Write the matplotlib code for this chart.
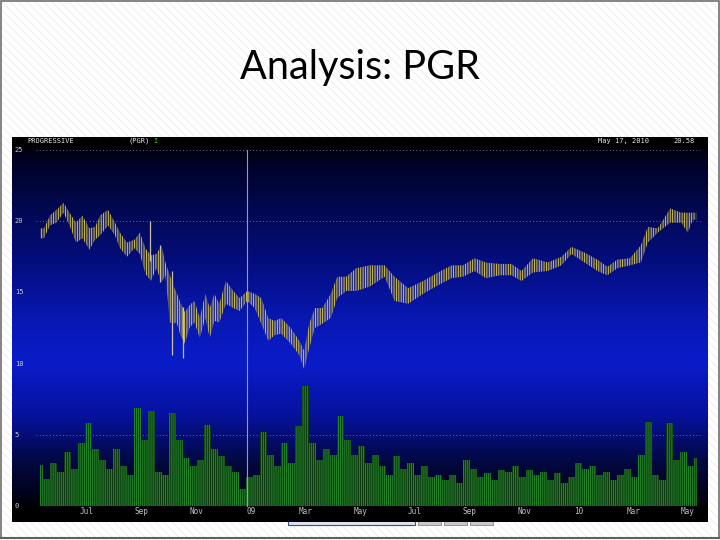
import numpy as np
import matplotlib.pyplot as plt
from matplotlib.colors import LinearSegmentedColormap
from matplotlib.patches import Rectangle
from matplotlib.lines import Line2D

# ============================
# DATA  (time in months after Jul 1, 2008)
# ============================
t_start = [-1.72, -1.43, -1.28, -0.95, -0.77, -0.51, -0.29, -0.04, 0.22, 0.37,
           0.59, 0.95, 1.10, 1.32, 1.61, 1.86, 2.01, 2.27, 2.41, 2.67,
           2.78, 2.96, 3.11, 3.22, 3.33, 3.51, 3.66, 3.84, 4.02, 4.24,
           4.42, 4.57, 4.75, 4.94, 5.23, 5.48, 5.70, 6.03, 6.25, 6.51,
           6.76, 6.98, 7.24, 7.68, 7.86, 8.04, 8.23, 8.45, 8.78, 9.07,
           9.25, 9.73, 9.98, 10.71, 11.08, 11.44, 12.07, 12.54, 13.16, 13.53,
           14.00, 14.37, 14.84, 15.36, 15.72, 16.09, 16.56, 17.18, 17.55, 17.92,
           18.50, 18.87, 19.23, 19.60, 20.15, 20.40, 20.66, 21.13, 21.57, 21.94,
           22.05]
t_end = 22.30
p_high = [19.5, 20.4, 20.8, 21.3, 20.6, 19.9, 20.4, 19.5, 19.6, 20.4,
          20.8, 19.9, 19.2, 18.5, 18.7, 19.2, 18.1, 17.6, 17.7, 18.3,
          17.1, 16.2, 15.5, 15.0, 14.3, 13.6, 14.1, 14.4, 13.2, 14.9,
          13.9, 14.9, 14.2, 15.8, 15.1, 14.6, 15.1, 14.9, 14.6, 13.2,
          13.0, 13.2, 12.5, 11.6, 10.9, 12.8, 13.9, 13.9, 14.9, 16.1,
          16.1, 16.7, 16.9, 16.9, 16.1, 15.3, 15.8, 16.4, 16.9, 16.9,
          17.4, 17.1, 17.0, 17.0, 16.5, 17.4, 17.1, 17.5, 18.2, 17.8,
          17.3, 16.8, 17.3, 17.4, 18.3, 19.6, 19.5, 20.9, 20.6, 20.6,
          20.6]
p_low = [18.8, 19.7, 19.9, 20.6, 19.7, 18.5, 18.8, 18.0, 18.7, 19.0,
         19.7, 19.0, 18.1, 17.5, 18.1, 17.7, 16.3, 15.8, 16.7, 15.7,
         16.2, 12.9, 12.8, 12.9, 12.0, 11.4, 12.5, 12.9, 11.8, 13.2,
         11.8, 13.0, 12.9, 14.2, 13.9, 13.7, 14.4, 13.9, 12.8, 11.6,
         12.0, 12.1, 11.4, 10.6, 9.6, 11.1, 12.5, 12.8, 13.2, 14.6,
         15.1, 15.1, 15.4, 16.1, 14.4, 14.2, 14.9, 15.5, 16.0, 16.1,
         16.5, 16.0, 16.2, 16.2, 15.8, 16.4, 16.5, 16.9, 17.7, 17.1,
         16.5, 16.2, 16.7, 16.9, 17.1, 18.5, 19.2, 19.9, 19.9, 19.2,
         20.1]

# single-day spikes
spike_t = [2.29, 2.68, 3.10, 3.50]
spike_hi = [20.0, 18.3, 16.5, 14.0]
spike_lo = [17.2, 15.7, 10.6, 10.4]

# volume, one value per step
vol_first = -1.72
vol_step = 0.256
volume = [2.9, 1.9, 3.0, 2.4, 3.8, 2.6, 4.4, 5.8, 4.0, 3.2,
          2.6, 4.0, 2.8, 2.2, 6.9, 4.6, 6.7, 2.4, 2.2, 6.5,
          4.6, 3.4, 2.8, 3.2, 5.7, 4.0, 3.5, 2.8, 2.4, 1.2,
          2.0, 2.2, 5.2, 3.6, 2.8, 4.4, 3.0, 5.6, 8.4, 4.4,
          3.2, 4.0, 3.6, 6.3, 4.6, 3.6, 4.2, 3.0, 3.6, 2.8,
          2.2, 3.5, 2.6, 3.0, 2.2, 2.8, 2.0, 2.2, 1.8, 2.2,
          1.6, 3.2, 2.6, 2.0, 2.3, 1.8, 2.5, 2.4, 2.8, 2.0,
          2.5, 2.2, 2.4, 1.8, 2.3, 1.6, 2.0, 3.0, 2.6, 2.8,
          2.2, 2.4, 1.8, 2.2, 2.6, 2.0, 3.6, 5.9, 2.2, 1.8,
          5.8, 3.2, 3.8, 2.8, 3.4]

month_ticks = [0, 2, 4, 6, 8, 10, 12, 14, 16, 18, 20, 22]
month_labels = ["Jul", "Sep", "Nov", "09", "Mar", "May",
                "Jul", "Sep", "Nov", "10", "Mar", "May"]
y_ticks = [25, 20, 15, 10, 5, 0]
grid_levels = [25, 20, 5]
year_mark = 5.87

# ============================
# FIGURE / SLIDE
# ============================
W, H = 720, 540
fig = plt.figure(figsize=(7.2, 5.4), dpi=100)

plt.rcParams['hatch.linewidth'] = 0.5
bg = fig.add_axes([0, 0, 1, 1])
bg.set_xlim(0, 1)
bg.set_ylim(0, 1)
bg.axis('off')
bg.add_patch(Rectangle((0, 0), 1, 1, facecolor='white', edgecolor='#e9e9e9',
                       hatch='\\\\\\\\', lw=0))
bg.add_patch(Rectangle((0.001, 0.004), 0.998, 0.995, facecolor='none',
                       edgecolor='#707070', lw=1.2))
bg.add_line(Line2D([0, 1], [1 - 538 / H] * 2, color='#606060', lw=1.5))

fig.text(0.5, 1 - 68 / H, "Analysis: PGR", ha='center', va='center',
         fontsize=28.5, family='Lato', color='black')

# ============================
# CHART
# ============================
ax = fig.add_axes([12 / W, 1 - 522 / H, 696 / W, 385 / H])
x0, x1 = -2.745, 22.732
y0, y1 = -1.127, 25.915
ax.set_xlim(x0, x1)
ax.set_ylim(y0, y1)
ax.axis('off')

stops = [(-1.127, '#000000'), (-0.2, '#000000'), (0.5, '#000214'),
         (3.0, '#020840'), (6.5, '#0612a0'), (10.0, '#0a1cc8'),
         (13.0, '#0818b4'), (17.0, '#040e80'), (21.0, '#020850'),
         (24.0, '#00022a'), (25.1, '#000010'), (25.3, '#000000'),
         (25.915, '#000000')]
cmap = LinearSegmentedColormap.from_list(
    'bg', [((v - y0) / (y1 - y0), c) for v, c in stops])
grad = np.linspace(y0, y1, 500)[:, None]
ax.imshow(grad, extent=[x0, x1, y0, y1], origin='lower', aspect='auto',
          cmap=cmap, vmin=y0, vmax=y1, zorder=0)

for lvl in grid_levels:
    ax.plot([-1.85, 22.45], [lvl, lvl], color='#8a8aa0', lw=0.6,
            ls=(0, (1, 3)), zorder=1)

ax.plot([year_mark, year_mark], [0, 25], color='#9a9aa8', lw=0.8, zorder=4)

# volume
vol_x = vol_first + vol_step * np.arange(len(volume))
plt.rcParams['hatch.linewidth'] = 0.6
ax.fill_between(vol_x, 0, volume, step='mid', facecolor='#0b3a0e',
                edgecolor='#2a9030', hatch='|' * 8, lw=0, zorder=2)

# price bars: band through the centre of each stretch
t_edges = np.array(t_start + [t_end])
t_mid = (t_edges[:-1] + t_edges[1:]) / 2
t_band = np.concatenate([[t_start[0]], t_mid, [t_end]])
hi = np.array([p_high[0]] + p_high + [p_high[-1]])
lo = np.array([p_low[0]] + p_low + [p_low[-1]])
plt.rcParams['hatch.linewidth'] = 0.6
ax.fill_between(t_band, lo, hi, facecolor=(0.45, 0.42, 0.25, 0.3),
                edgecolor='#e2d050', hatch='|' * 7, lw=0, zorder=3)
ax.vlines(spike_t, spike_lo, spike_hi, color='#c8c0a0', lw=0.9, zorder=3)

# axis labels
for v in y_ticks:
    ax.text(0.004, v, str(v), transform=ax.get_yaxis_transform(),
            ha='left', va='center', fontsize=5, family='DejaVu Sans Mono',
            color='#c8c8d8')
for m, lab in zip(month_ticks, month_labels):
    ax.text(m, -0.38, lab, ha='center', va='center', fontsize=5.5,
            family='DejaVu Sans Mono', color='#c0c0c0')

hdr = dict(transform=ax.transAxes, va='center', fontsize=5,
           family='DejaVu Sans Mono', color='#e8e8e8')
ax.text(0.0216, 0.989, "PROGRESSIVE", ha='left', **hdr)
ax.text(0.1667, 0.989, "(PGR)", ha='left', **hdr)
ax.text(0.842, 0.989, "May 17, 2010", ha='left', **hdr)
ax.text(0.951, 0.989, "20.58", ha='left', **hdr)
ax.text(0.2026, 0.989, "I", ha='left', transform=ax.transAxes, va='center',
        fontsize=5, family='DejaVu Sans Mono', color='#30d030')

# small toolbar under the chart
bg.add_patch(Rectangle((288 / W, 1 - 525 / H), 127 / W, 8 / H,
                       facecolor='#dde3ee', edgecolor='#3050a0', lw=0.8, zorder=5))
for bx in [418, 444, 470]:
    bg.add_patch(Rectangle((bx / W, 1 - 525 / H), 23 / W, 8 / H,
                           facecolor='#c8c8c8', edgecolor='#888888', lw=0.6, zorder=5))
bg.set_zorder(-1)

plt.savefig("out.png", dpi=100)
